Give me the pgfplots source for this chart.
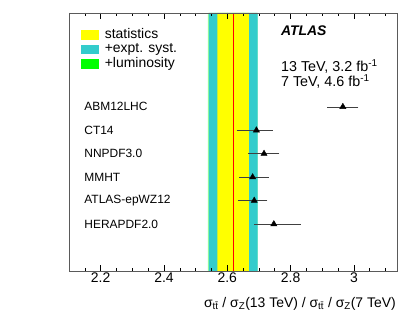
\documentclass[border=0pt]{standalone}
\usepackage{fontspec}
\setmainfont{Liberation Sans}
\usepackage{pgfplots}
\pgfplotsset{compat=1.18}
\definecolor{statyellow}{RGB}{255,255,0}
\definecolor{systcyan}{RGB}{51,204,204}
\definecolor{lumigreen}{RGB}{0,255,0}
\definecolor{framegray}{RGB}{90,90,90}

\begin{document}
\begin{tikzpicture}[font=\fontsize{14}{16}\selectfont]
\begin{axis}[
    scale only axis,
    width=328bp, height=258bp,
    xmin=2.1, xmax=3.136,
    ymin=0, ymax=11,
    xtick={2.2,2.4,2.6,2.8,3},
    xticklabels={2.2,2.4,2.6,2.8,3},
    minor xtick={2.1,2.15,...,3.15},
    ytick=\empty,
    tick align=inside,
    xtick pos=both,
    major tick length=6bp,
    minor tick length=3bp,
    tick style={black, line width=0.6pt},
    axis line style={framegray, line width=0.7pt},
    axis on top,
    /pgf/number format/assume math mode=true,
    xticklabel style={yshift=1.5bp},
    xlabel={σ\textsubscript{t\={t}} / σ\textsubscript{Z}(13 TeV) / σ\textsubscript{t\={t}} / σ\textsubscript{Z}(7 TeV)},
    xlabel style={at={(rel axis cs:1,0)}, anchor=base east, yshift=-36bp, xshift=-1bp, inner sep=0pt},
    legend cell align=left,
    legend style={at={(rel axis cs:0.036,0.946)}, anchor=north west, draw=none, fill=none,
        inner sep=0pt, row sep=-0.5bp, column sep=5bp,
        nodes={inner sep=1bp, text height=10bp, text depth=3bp}},
]
% legend entries (boxes)
\addlegendimage{legend image code/.code={\fill[statyellow] (0bp,-4.3bp) rectangle (17.4bp,4.3bp);}}
\addlegendentry{statistics}
\addlegendimage{legend image code/.code={\fill[systcyan] (0bp,-4.3bp) rectangle (17.4bp,4.3bp);}}
\addlegendentry{+expt. syst.}
\addlegendimage{legend image code/.code={\fill[lumigreen] (0bp,-4.3bp) rectangle (17.4bp,4.3bp);}}
\addlegendentry{+luminosity}

% measurement bands
\addplot[fill=lumigreen!40, draw=none, forget plot] coordinates {(2.539,0) (2.696,0) (2.696,11) (2.539,11)} \closedcycle;
\addplot[fill=systcyan, draw=none, forget plot] coordinates {(2.542,0) (2.696,0) (2.696,11) (2.542,11)} \closedcycle;
\addplot[fill=statyellow, draw=none, forget plot] coordinates {(2.569,0) (2.668,0) (2.668,11) (2.569,11)} \closedcycle;
\addplot[red, line width=0.6pt, forget plot] coordinates {(2.618,0) (2.618,11)};

% predictions
\addplot[only marks, mark=triangle*, mark size=3.6pt, black, forget plot,
    error bars/.cd, x dir=both, x explicit,
    error bar style={black!75, line width=0.6pt},
    error mark options={black!75, mark size=2pt, line width=0.6pt}]
coordinates {
    (2.965,7) += (0.043,0) -= (0.043,0)
    (2.692,6) += (0.045,0) -= (0.056,0)
    (2.716,5) += (0.042,0) -= (0.044,0)
    (2.680,4) += (0.044,0) -= (0.036,0)
    (2.685,3) += (0.035,0) -= (0.045,0)
    (2.747,2) += (0.078,0) -= (0.055,0)
};

\begin{scope}[every node/.style={anchor=west, inner sep=0pt, font=\fontsize{12}{14}\selectfont}]
\node at (axis cs:2.148,7) {ABM12LHC};
\node at (axis cs:2.148,6) {CT14};
\node at (axis cs:2.148,5) {NNPDF3.0};
\node at (axis cs:2.148,4) {MMHT};
\node at (axis cs:2.148,3) {ATLAS-epWZ12};
\node at (axis cs:2.148,2) {HERAPDF2.0};
\end{scope}

\node[anchor=west, inner sep=0pt, font=\fontsize{14}{16}\selectfont\bfseries\itshape] at (rel axis cs:0.646,0.931) {ATLAS};
\node[anchor=west, inner sep=0pt, font=\fontsize{14.4}{16}\selectfont] at (rel axis cs:0.646,0.792) {13 TeV, 3.2 fb\textsuperscript{-1}};
\node[anchor=west, inner sep=0pt, font=\fontsize{14.4}{16}\selectfont] at (rel axis cs:0.646,0.734) {7 TeV, 4.6 fb\textsuperscript{-1}};
\end{axis}
\path ([shift={(-69bp,-55bp)}]current axis.south west) rectangle ([shift={(17bp,13bp)}]current axis.north east);
\end{tikzpicture}
\end{document}
